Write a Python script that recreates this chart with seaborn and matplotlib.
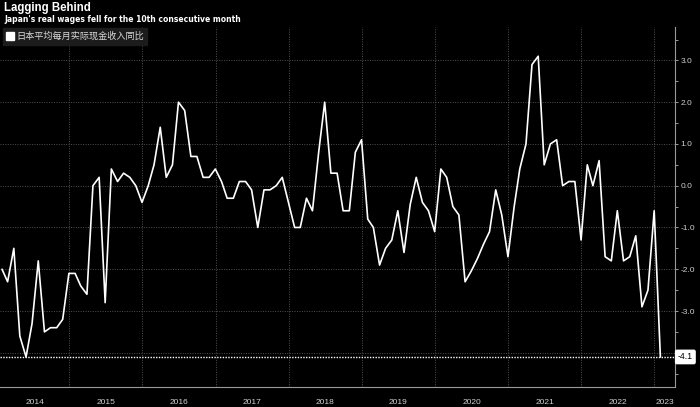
import pandas as pd
import numpy as np
import matplotlib.pyplot as plt
import matplotlib.dates as mdates
from matplotlib.lines import Line2D
import seaborn as sns

# 日本实际工资同比 (%), 2014-01 ~ 2023-01, 月末
wages_2014 = [-2.0, -2.3, -1.5, -3.6, -4.1, -3.3, -1.8, -3.5, -3.4, -3.4, -3.2, -2.1]
wages_2015 = [-2.1, -2.4, -2.6, 0.0, 0.2, -2.8, 0.4, 0.1, 0.3, 0.2, 0.0, -0.4]
wages_2016 = [0.0, 0.5, 1.4, 0.2, 0.5, 2.0, 1.8, 0.7, 0.7, 0.2, 0.2, 0.4]
wages_2017 = [0.1, -0.3, -0.3, 0.1, 0.1, -0.1, -1.0, -0.1, -0.1, 0.0, 0.2, -0.4]
wages_2018 = [-1.0, -1.0, -0.3, -0.6, 0.8, 2.0, 0.3, 0.3, -0.6, -0.6, 0.8, 1.1]
wages_2019 = [-0.8, -1.0, -1.9, -1.5, -1.3, -0.6, -1.6, -0.45, 0.2, -0.4, -0.6, -1.1]
wages_2020 = [0.4, 0.2, -0.5, -0.7, -2.3, -2.05, -1.75, -1.4, -1.1, -0.1, -0.7, -1.7]
wages_2021 = [-0.5, 0.4, 1.0, 2.9, 3.1, 0.5, 1.0, 1.1, 0.0, 0.1, 0.1, -1.3]
wages_2022 = [0.5, 0.0, 0.6, -1.7, -1.8, -0.6, -1.8, -1.7, -1.2, -2.9, -2.5, -0.6]
wages_2023 = [-4.1]

years = list(range(2014, 2024))
y_ticks = [-4, -3, -2, -1, 0, 1, 2, 3]
y_labels = ['', '-3.0', '-2.0', '-1.0', '0.0', '1.0', '2.0', '3.0']
last_label = '-4.1'
title = 'Lagging Behind'
subtitle = "Japan's real wages fell for the 10th consecutive month"
legend_text = '日本平均每月实际现金收入同比'

values = (wages_2014 + wages_2015 + wages_2016 + wages_2017 + wages_2018
          + wages_2019 + wages_2020 + wages_2021 + wages_2022 + wages_2023)
dates = pd.date_range('2014-01-31', periods=len(values), freq='ME')
df = pd.DataFrame({'date': dates, 'value': values})

sns.set_style('dark')
plt.rcParams['font.family'] = ['Liberation Sans', 'DejaVu Sans']
plt.rcParams['axes.unicode_minus'] = False

fig = plt.figure(figsize=(7, 4.07), dpi=100, facecolor='black')
ax = fig.add_axes([0, 0.0491, 0.9643, 0.8846])
ax.set_facecolor('black')

sns.lineplot(data=df, x='date', y='value', color='white', linewidth=1.2, ax=ax)

x_left = pd.Timestamp('2014-01-21')
x_right = pd.Timestamp('2023-04-14')
ax.set_xlim(x_left, x_right)
ax.set_ylim(-4.82, 3.80)

# 网格
ax.set_yticks(y_ticks, y_labels)
ax.set_yticks(np.arange(-4.5, 3.6, 1.0), minor=True)
for v in y_ticks:
    ax.axhline(v, color='#505050', linestyle=(0, (1, 1.5)), linewidth=0.7, zorder=1)
ax.axhline(values[-1], color='white', linestyle=(0, (1, 1)), linewidth=1.0, zorder=2)

year_starts = [pd.Timestamp(f'{y}-01-01') for y in years[1:]]
for d in year_starts:
    ax.axvline(d, color='#505050', linestyle=(0, (1, 1.5)), linewidth=0.7, zorder=1)

ax.set_xticks(year_starts)
ax.set_xticklabels([])
quarters = [pd.Timestamp(f'{y}-{m:02d}-01') for y in years for m in (4, 7, 10)]
quarters = [q for q in quarters if x_left < q < x_right]
ax.set_xticks(quarters, minor=True)
ax.tick_params(axis='x', which='major', length=14.5, width=0.8, color='#9a9a9a', direction='out')
ax.tick_params(axis='x', which='minor', length=2.2, width=0.7, color='#9a9a9a', direction='out')

# 年份标签放在每年可见区间中间
for y in years:
    lo = max(pd.Timestamp(f'{y}-01-01'), x_left)
    hi = min(pd.Timestamp(f'{y + 1}-01-01'), x_right)
    mid = lo + (hi - lo) / 2
    ax.text(mdates.date2num(mid), -0.042, str(y), transform=ax.get_xaxis_transform(),
            ha='center', va='center', fontsize=6, color='#cfcfcf')

ax.yaxis.tick_right()
ax.tick_params(axis='y', which='major', length=2.5, width=0.7, color='#9a9a9a',
               labelsize=6, labelcolor='#cfcfcf', pad=1.5)
ax.tick_params(axis='y', which='minor', length=2.0, width=0.7, color='#9a9a9a')

ax.grid(False)
ax.set_xlabel('')
ax.set_ylabel('')
for side in ['top', 'left']:
    ax.spines[side].set_visible(False)
for side in ['bottom', 'right']:
    ax.spines[side].set_visible(True)
    ax.spines[side].set_color('#9a9a9a')
    ax.spines[side].set_linewidth(0.8)

# 最新值标签
ax.annotate(last_label, xy=(1.0, values[-1]), xycoords=ax.get_yaxis_transform(),
            xytext=(2, 0), textcoords='offset points', ha='left', va='center',
            fontsize=6.3, color='black', annotation_clip=False, zorder=10,
            bbox=dict(boxstyle='round,pad=0.25,rounding_size=0.15', fc='white', ec='white'))

# 图例
handle = Line2D([], [], marker='s', linestyle='none', markersize=5.2,
                markerfacecolor='white', markeredgecolor='white')
leg = ax.legend([handle], [legend_text], loc='upper left', bbox_to_anchor=(0.004, 0.997),
                frameon=True, fancybox=False, handletextpad=0.25, handlelength=0.8,
                borderpad=0.4, borderaxespad=0.0,
                prop={'family': ['Noto Sans CJK SC', 'DejaVu Sans'], 'size': 6.6})
leg.get_frame().set_facecolor('#1c1c1c')
leg.get_frame().set_edgecolor('#1c1c1c')
leg.get_frame().set_alpha(1.0)
for t in leg.get_texts():
    t.set_color('#d8d8d8')

fig.text(0.006, 0.995, title, ha='left', va='top', fontsize=8.3,
         fontweight='bold', color='white')
fig.text(0.006, 0.963, subtitle, ha='left', va='top', fontsize=5.5,
         fontweight='bold', color='white', family=['DejaVu Sans'])

fig.savefig('out.png', dpi=100, facecolor='black')
